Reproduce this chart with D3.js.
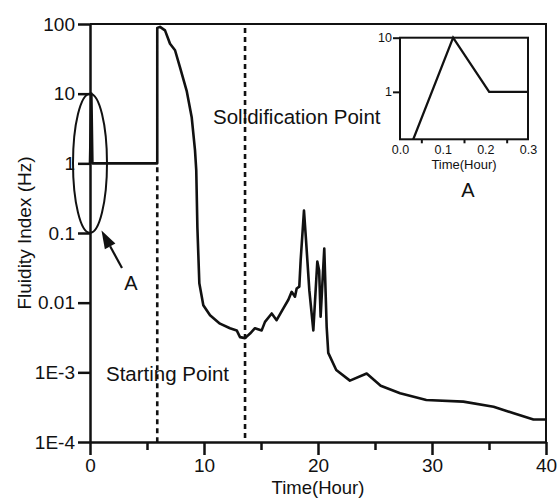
<!DOCTYPE html>
<html>
<head>
<meta charset="utf-8">
<script src="https://cdn.jsdelivr.net/npm/d3@7"></script>
<style>
  body { margin: 0; background: #fff; }
  svg { display: block; }
  text { font-family: "Liberation Sans", Arial, sans-serif; fill: #111; }
  .axis path, .axis line { stroke: #111; }
</style>
</head>
<body>
<svg width="558" height="498"></svg>
<script>
// main curve (hours, Hz)
var timeHours = [0, 0.12, 0.21, 5.9, 5.9, 6.14, 6.58, 7.02, 7.46, 7.89, 8.48, 8.92, 9.21, 9.32,
  9.42, 9.59, 9.94, 10.53, 11.4, 12.28, 12.87, 13.16, 13.6, 14.04, 14.47, 15.06, 15.35, 15.94,
  16.37, 16.96, 17.4, 17.69, 17.98, 18.13, 18.36, 18.48, 18.77, 18.95, 19.24, 19.59, 19.94,
  20.1, 20.23, 20.55, 20.76, 20.9, 21.6, 22.8, 24.27, 25.5, 27.2, 29.5, 32.75, 35.4, 37.1,
  38.9, 40];
var fluidity = [1, 10, 1, 1, 88, 91, 81, 52, 42, 24, 11, 4.6, 1.55, 0.8,
  0.12, 0.019, 0.0092, 0.0066, 0.005, 0.0043, 0.004, 0.0032, 0.0031, 0.0036, 0.0043, 0.004,
  0.0053, 0.007, 0.0056, 0.0083, 0.011, 0.0143, 0.0122, 0.016, 0.017, 0.041, 0.21, 0.079,
  0.015, 0.004, 0.039, 0.029, 0.0063, 0.06, 0.0045, 0.0019, 0.00108, 0.00076, 0.00096,
  0.00064, 0.0005, 0.0004, 0.00038, 0.00032, 0.00026, 0.00021, 0.00021];

// inset A (first 0.3 hour)
var insetTime = [0.031, 0.1245, 0.209, 0.3];
var insetFluidity = [0.133, 10, 1, 1];

var xTicks = [0, 10, 20, 30, 40];
var xMinorTicks = [5, 15, 25, 35];
var yTicks = [1e-4, 1e-3, 0.01, 0.1, 1, 10, 100];
var yTickLabels = ["1E-4", "1E-3", "0.01", "0.1", "1", "10", "100"];
var insetXTicks = [0, 0.1, 0.2, 0.3];
var insetXMinor = [0.05, 0.15, 0.25];
var insetYTicks = [1, 10];
var insetYTickLabels = ["1", "10"];

// marker lines
var startTime = 5.9;
var solidTime = 13.6;

var plot = {left: 90, right: 546, top: 24, bottom: 442};
var ins = {left: 400, right: 528, top: 37.7, bottom: 139.3};

var svg = d3.select("svg");

var x = d3.scaleLinear().domain([0, 40]).range([plot.left, plot.right]);
var y = d3.scaleLog().domain([1e-4, 100]).range([plot.bottom, plot.top]);

// frame top and right
svg.append("path")
    .attr("d", "M" + x(0) + "," + y(100) + "H" + x(40) + "V" + y(1e-4))
    .attr("fill", "none").attr("stroke", "#111").attr("stroke-width", 2);

// dotted markers
svg.append("line")
    .attr("x1", x(startTime)).attr("x2", x(startTime))
    .attr("y1", y(1) + 4).attr("y2", y(1e-4))
    .attr("stroke", "#111").attr("stroke-width", 2.6).attr("stroke-dasharray", "5,4");
svg.append("line")
    .attr("x1", x(solidTime)).attr("x2", x(solidTime))
    .attr("y1", y(100) + 4).attr("y2", y(1e-4))
    .attr("stroke", "#111").attr("stroke-width", 2.6).attr("stroke-dasharray", "5,4");

var mainData = timeHours.map(function(t, i) { return {t: t, v: fluidity[i]}; });
var line = d3.line()
    .x(function(d) { return x(d.t); })
    .y(function(d) { return y(d.v); });

svg.append("path")
    .datum(mainData)
    .attr("d", line)
    .attr("fill", "none").attr("stroke", "#111")
    .attr("stroke-width", 2.6).attr("stroke-linejoin", "round");

// axes
svg.append("g")
    .attr("class", "axis")
    .attr("transform", "translate(" + plot.left + ",0)")
    .call(d3.axisLeft(y).tickValues(yTicks)
        .tickFormat(function(d, i) { return yTickLabels[i]; })
        .tickSize(12).tickSizeOuter(0).tickPadding(3));

svg.append("g")
    .attr("class", "axis")
    .attr("transform", "translate(0," + plot.bottom + ")")
    .call(d3.axisBottom(x).tickValues(xTicks).tickFormat(d3.format("d"))
        .tickSize(13).tickSizeOuter(0).tickPadding(4));

svg.append("g")
    .attr("class", "axis")
    .attr("transform", "translate(0," + plot.bottom + ")")
    .call(d3.axisBottom(x).tickValues(xMinorTicks).tickFormat("")
        .tickSize(8).tickSizeOuter(0))
    .select(".domain").remove();

svg.selectAll(".axis path").attr("stroke-width", 2.5);
svg.selectAll(".axis line").attr("stroke-width", 2.5);
svg.selectAll(".axis text").style("font-size", "19px").attr("fill", "#111");

svg.append("text")
    .attr("x", x(20)).attr("y", 493.5)
    .attr("text-anchor", "middle")
    .style("font-size", "18.5px")
    .text("Time(Hour)");

svg.append("text")
    .attr("transform", "translate(31," + 233 + ") rotate(-90)")
    .attr("text-anchor", "middle")
    .style("font-size", "19px")
    .text("Fluidity Index (Hz)");

// annotations
svg.append("text").attr("x", 213).attr("y", 124).style("font-size", "20.5px").text("Solidification Point");
svg.append("text").attr("x", 106).attr("y", 381).style("font-size", "20.5px").text("Starting Point");

svg.append("ellipse")
    .attr("cx", x(0)).attr("cy", (y(10) + y(0.1)) / 2)
    .attr("rx", 17).attr("ry", (y(0.1) - y(10)) / 2)
    .attr("fill", "none").attr("stroke", "#111").attr("stroke-width", 2);

var tip = [101.5, 230.5], tail = [122, 268];
var dx = tip[0] - tail[0], dy = tip[1] - tail[1];
var len = Math.sqrt(dx * dx + dy * dy);
var ux = dx / len, uy = dy / len;
var hl = 18, hw = 6;
var base = [tip[0] - ux * hl, tip[1] - uy * hl];
svg.append("line")
    .attr("x1", tail[0]).attr("y1", tail[1]).attr("x2", base[0]).attr("y2", base[1])
    .attr("stroke", "#111").attr("stroke-width", 2.2);
svg.append("polygon")
    .attr("points", [tip, [base[0] - uy * hw, base[1] + ux * hw], [base[0] + uy * hw, base[1] - ux * hw]]
        .map(function(p) { return p.join(","); }).join(" "))
    .attr("fill", "#111");
svg.append("text").attr("x", 131).attr("y", 290).attr("text-anchor", "middle")
    .style("font-size", "20px").text("A");

// inset
var ix = d3.scaleLinear().domain([0, 0.3]).range([ins.left, ins.right]);
var iy = d3.scaleLog().domain([0.133, 10]).range([ins.bottom, ins.top]);

var insetData = insetTime.map(function(t, i) { return {t: t, v: insetFluidity[i]}; });
svg.append("path")
    .datum(insetData)
    .attr("d", d3.line().x(function(d) { return ix(d.t); }).y(function(d) { return iy(d.v); }))
    .attr("fill", "none").attr("stroke", "#111").attr("stroke-width", 2.3)
    .attr("stroke-linejoin", "miter");

svg.append("rect")
    .attr("x", ins.left).attr("y", ins.top)
    .attr("width", ins.right - ins.left).attr("height", ins.bottom - ins.top)
    .attr("fill", "none").attr("stroke", "#111").attr("stroke-width", 2);

svg.append("g")
    .attr("class", "iaxis")
    .attr("transform", "translate(" + ins.left + ",0)")
    .call(d3.axisLeft(iy).tickValues(insetYTicks)
        .tickFormat(function(d, i) { return insetYTickLabels[i]; })
        .tickSize(7).tickSizeOuter(0).tickPadding(1));

svg.append("g")
    .attr("class", "iaxis")
    .attr("transform", "translate(0," + ins.bottom + ")")
    .call(d3.axisBottom(ix).tickValues(insetXTicks).tickFormat(d3.format(".1f"))
        .tickSize(0).tickSizeOuter(0).tickPadding(6));

svg.append("g")
    .attr("class", "iaxis")
    .attr("transform", "translate(0," + ins.bottom + ")")
    .call(d3.axisBottom(ix).tickValues(insetXMinor).tickFormat("")
        .tickSize(4).tickSizeOuter(0));

svg.selectAll(".iaxis .domain").remove();
svg.selectAll(".iaxis line").attr("stroke", "#111").attr("stroke-width", 2);
svg.selectAll(".iaxis text").style("font-size", "12.5px").attr("fill", "#111");

svg.append("text")
    .attr("x", 464).attr("y", 169)
    .attr("text-anchor", "middle")
    .style("font-size", "13px")
    .text("Time(Hour)");

svg.append("text")
    .attr("x", 468).attr("y", 197)
    .attr("text-anchor", "middle")
    .style("font-size", "20px")
    .text("A");
</script>
</body>
</html>
